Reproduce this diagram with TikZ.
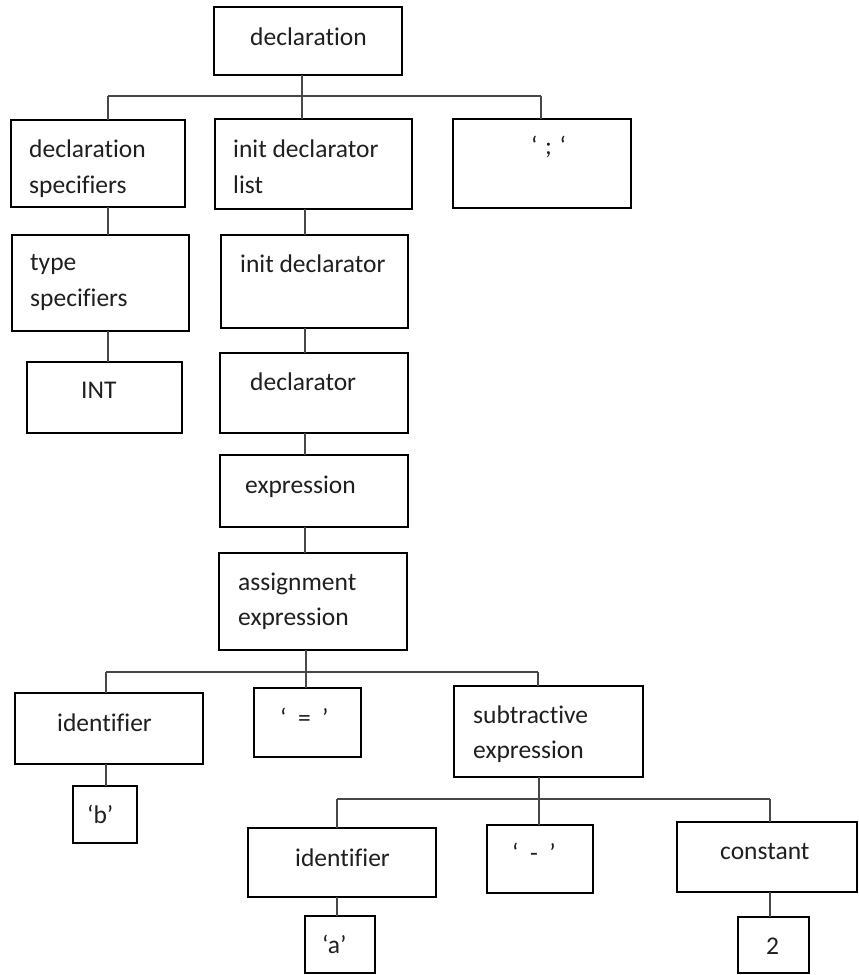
\documentclass[tikz,border=0pt]{standalone}
\usepackage{fontspec}
\setmainfont{Carlito}[Ligatures=NoCommon]
\begin{document}
\begin{tikzpicture}[x=1pt,y=-1pt,
  box/.style={draw=black, line width=2.2pt, inner sep=0pt, outer sep=0pt, anchor=north west},
  lbl/.style={anchor=base west, inner sep=0pt, font=\fontsize{25.5}{30}\selectfont, text=black!88},
  conn/.style={draw=black!72, line width=1.3pt}]
\useasboundingbox (0,0) rectangle (859,975);
% boxes
\node[box, minimum width=188pt, minimum height=68pt] (decl) at (214,7) {};
\node[box, minimum width=174pt, minimum height=87pt] (declspec) at (11,120) {};
\node[box, minimum width=197pt, minimum height=90pt] (initlist) at (215,119) {};
\node[box, minimum width=178pt, minimum height=89pt] (semi) at (453,119) {};
\node[box, minimum width=177pt, minimum height=96pt] (typespec) at (12,235) {};
\node[box, minimum width=155pt, minimum height=71pt] (int) at (27,362) {};
\node[box, minimum width=187pt, minimum height=93pt] (initdecl) at (221,235) {};
\node[box, minimum width=188pt, minimum height=80pt] (declarator) at (220,353) {};
\node[box, minimum width=188pt, minimum height=72pt] (expr) at (220,455) {};
\node[box, minimum width=188pt, minimum height=97pt] (assign) at (219,553) {};
\node[box, minimum width=188pt, minimum height=71pt] (ident1) at (15,693) {};
\node[box, minimum width=107pt, minimum height=69pt] (eq) at (254,688) {};
\node[box, minimum width=189pt, minimum height=91pt] (subexp) at (454,686) {};
\node[box, minimum width=64pt, minimum height=57pt] (bbox) at (73,786) {};
\node[box, minimum width=188pt, minimum height=69pt] (ident2) at (248,828) {};
\node[box, minimum width=106pt, minimum height=68pt] (minus) at (487,825) {};
\node[box, minimum width=180pt, minimum height=70pt] (const) at (677,822) {};
\node[box, minimum width=70pt, minimum height=57pt] (abox) at (305,916) {};
\node[box, minimum width=71pt, minimum height=56pt] (two) at (738,917) {};
% junction coordinates
\coordinate (b1l) at (108,96);
\coordinate (b1m) at (302,96);
\coordinate (b1r) at (541,96);
\coordinate (mc) at (305,0);
\coordinate (b2l) at (106,672);
\coordinate (b2m) at (306,672);
\coordinate (b2r) at (538,672);
\coordinate (b3l) at (337,799);
\coordinate (b3m) at (539,799);
\coordinate (b3r) at (770,799);
% connectors
\draw[conn] (b1l) -- (b1r);
\draw[conn] (decl.south -| b1m) -- (initlist.north -| b1m);
\draw[conn] (b1l) -- (declspec.north -| b1l);
\draw[conn] (b1r) -- (semi.north -| b1r);
\draw[conn] (declspec.south -| b1l) -- (typespec.north -| b1l);
\draw[conn] (typespec.south -| b1l) -- (int.north -| b1l);
\draw[conn] (initlist.south -| mc) -- (initdecl.north -| mc);
\draw[conn] (initdecl.south -| mc) -- (declarator.north -| mc);
\draw[conn] (declarator.south -| mc) -- (expr.north -| mc);
\draw[conn] (expr.south -| mc) -- (assign.north -| mc);
\draw[conn] (assign.south -| b2m) -- (b2m);
\draw[conn] (b2l) -- (b2r);
\draw[conn] (b2l) -- (ident1.north -| b2l);
\draw[conn] (b2m) -- (eq.north -| b2m);
\draw[conn] (b2r) -- (subexp.north -| b2r);
\draw[conn] (ident1.south -| b2l) -- (bbox.north -| b2l);
\draw[conn] (subexp.south -| b3m) -- (b3m);
\draw[conn] (b3l) -- (b3r);
\draw[conn] (b3l) -- (ident2.north -| b3l);
\draw[conn] (b3m) -- (minus.north -| b3m);
\draw[conn] (b3r) -- (const.north -| b3r);
\draw[conn] (ident2.south -| b3l) -- (abox.north -| b3l);
\draw[conn] (const.south -| b3r) -- (two.north -| b3r);
% labels
\node[lbl] (tdecl) at (250,45) {declaration};
\node[lbl] (tds1) at (29,157) {declaration};
\node[lbl] (tds2) at (29,193) {specifiers};
\node[lbl] (til1) at (233,157) {init declarator};
\node[lbl] (til2) at (233,193) {list};
\node[lbl] (tsemi) at (531,154) {‘\hspace{0.3em};\hspace{0.3em}‘};
\node[lbl] (tts1) at (30,270) {type};
\node[lbl] (tts2) at (30,306) {specifiers};
\node[lbl] (tint) at (81,398) {INT};
\node[lbl] (tid) at (240,272) {init declarator};
\node[lbl] (tdcl) at (250,390) {declarator};
\node[lbl] (texp) at (245,493) {expression};
\node[lbl] (tas1) at (238,590) {assignment};
\node[lbl] (tas2) at (238,625) {expression};
\node[lbl] (tident1) at (57,731) {identifier};
\node[lbl] (teq) at (280,726) {‘\hspace{0.45em}=\hspace{0.45em}’};
\node[lbl] (tb) at (87,823) {‘b’};
\node[lbl] (tsub1) at (473,723) {subtractive};
\node[lbl] (tsub2) at (473,758) {expression};
\node[lbl] (tident2) at (295,866) {identifier};
\node[lbl] (tminus) at (512,861) {‘\hspace{0.45em}-\hspace{0.45em}’};
\node[lbl] (tconst) at (720,859) {constant};
\node[lbl] (ta) at (322,953) {‘a’};
\node[lbl] (t2) at (766,954) {2};
\end{tikzpicture}
\end{document}
